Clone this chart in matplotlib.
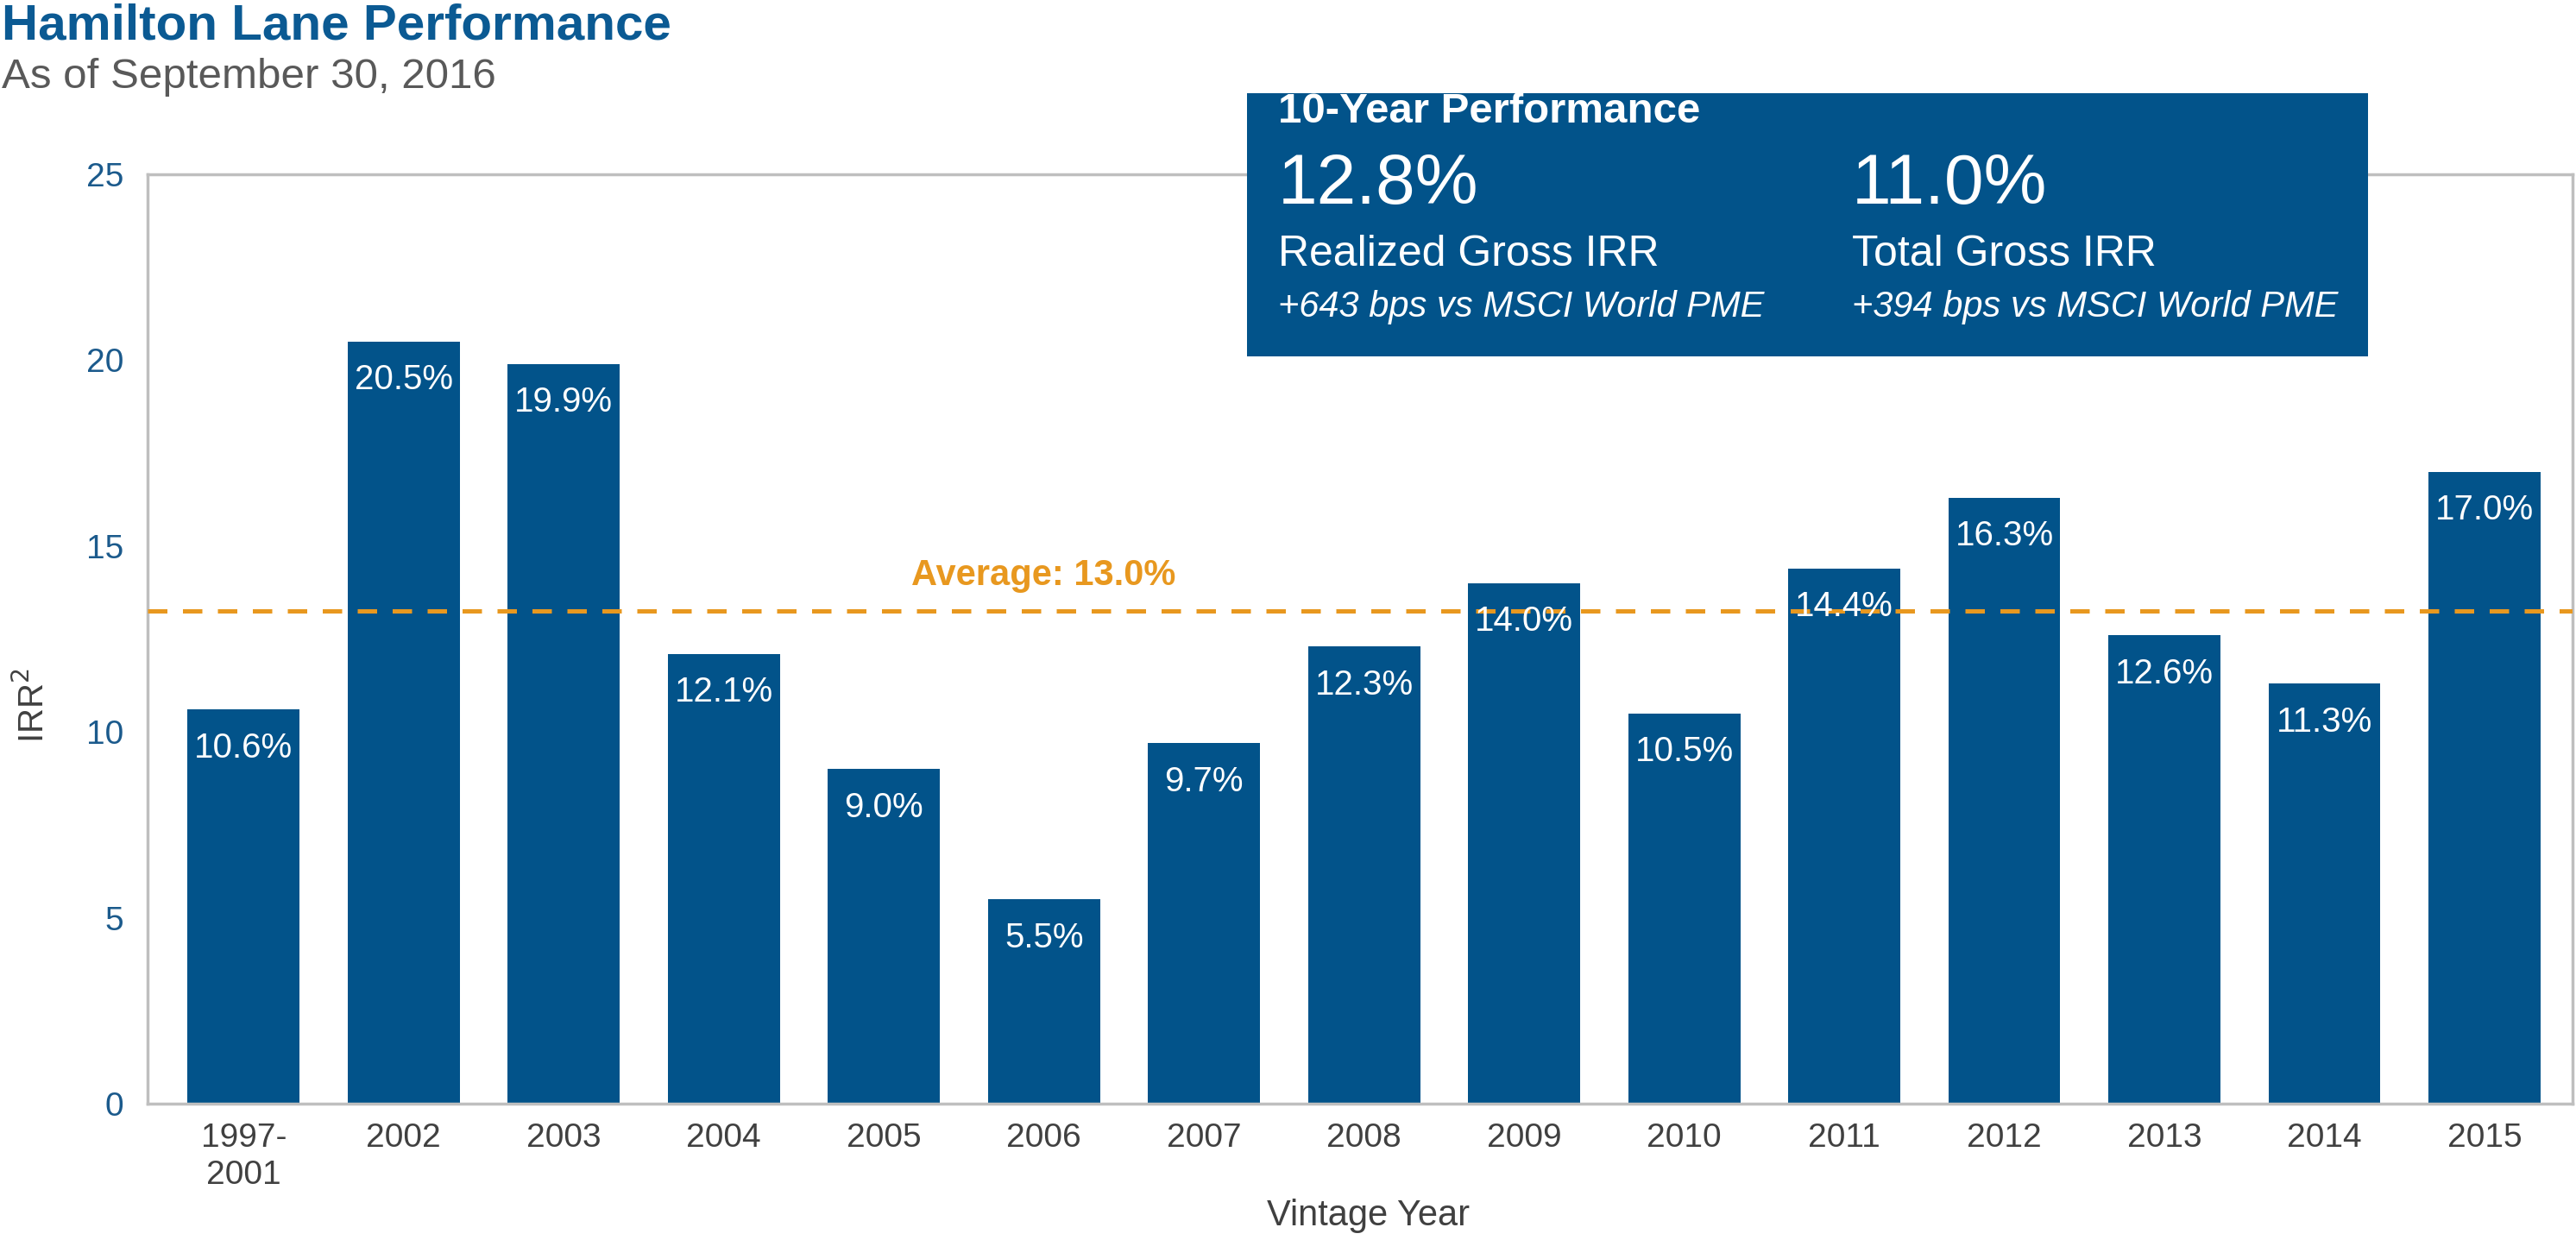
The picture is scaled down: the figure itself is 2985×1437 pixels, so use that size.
"""Hamilton Lane performance by vintage year, with the 10-year summary box."""
import matplotlib
matplotlib.use("Agg")
import matplotlib.pyplot as plt
from matplotlib.patches import Rectangle

plt.rcParams["font.family"] = ["Liberation Sans", "DejaVu Sans"]

# data
vintages = ["1997-\n2001", "2002", "2003", "2004", "2005", "2006", "2007", "2008",
            "2009", "2010", "2011", "2012", "2013", "2014", "2015"]
irr = [10.6, 20.5, 19.9, 12.1, 9.0, 5.5, 9.7, 12.3, 14.0, 10.5, 14.4, 16.3, 12.6, 11.3, 17.0]
avg_line = 13.25         # where the dashed line sits in the picture
avg_label = "Average: 13.0%"
perf_values = ["12.8%", "11.0%"]
perf_names = ["Realized Gross IRR", "Total Gross IRR"]
perf_notes = ["+643 bps vs MSCI World PME", "+394 bps vs MSCI World PME"]

BLUE = "#02538A"
TICK_BLUE = "#1B5A8C"
ORANGE = "#E8981F"
GREY_TXT = "#404040"
FRAME = "#BFBFBF"

W, H = 2985, 1437
fig = plt.figure(figsize=(W / 100, H / 100), dpi=100)


def fx(px):
    return px / W


def fy(py):
    return 1 - py / H


ax = fig.add_axes([fx(171), fy(1279), fx(2981) - fx(171), fy(202) - fy(1279)])
x = list(range(len(vintages)))
ax.bar(x, irr, width=0.7, color=BLUE, zorder=2)
for xi, v in zip(x, irr):
    ax.annotate(f"{v:.1f}%", (xi, v), xytext=(0, -32), textcoords="offset points",
                ha="center", va="center", color="white", fontsize=29, zorder=4)

ax.axhline(avg_line, color=ORANGE, lw=3.6, linestyle=(0, (4.5, 3.6)), zorder=3)
ax.annotate(avg_label, (5, avg_line), xytext=(0, 30), textcoords="offset points",
            ha="center", va="center", color=ORANGE, fontsize=30, fontweight="bold")

ax.set_xlim(-0.6, 14.55)
ax.set_ylim(0, 25)
ax.set_yticks([0, 5, 10, 15, 20, 25])
ax.set_xticks(x)
ax.set_xticklabels(vintages, color=GREY_TXT, fontsize=28, linespacing=1.25)
ax.tick_params(axis="x", length=0, pad=16)
ax.tick_params(axis="y", length=0, pad=20, labelsize=28, labelcolor=TICK_BLUE)
for sp in ax.spines.values():
    sp.set_color(FRAME)
    sp.set_linewidth(2.5)
fig.text(fx(1586), fy(1409), "Vintage Year", ha="center", va="center",
         fontsize=30, color=GREY_TXT)
fig.text(fx(38), fy(818), "IRR$^2$", rotation=90, ha="center", va="center",
         fontsize=29, color=GREY_TXT)

# titles
fig.text(fx(2), fy(30), "Hamilton Lane Performance", fontsize=42, fontweight="bold",
         color="#0B5A93", ha="left", va="center")
fig.text(fx(2), fy(90), "As of September 30, 2016", fontsize=35.5, color="#595959",
         ha="left", va="center")

# 10-year performance box
box = Rectangle((fx(1445), fy(413)), fx(2744) - fx(1445), fy(108) - fy(413),
                transform=fig.transFigure, facecolor=BLUE, edgecolor="none", zorder=5)
fig.add_artist(box)
fig.text(fx(1481), fy(130), "10-Year Performance", fontsize=35.5, fontweight="bold",
         color="white", ha="left", va="center", zorder=6)
for col_x, val, name, note in zip([1481, 2146], perf_values, perf_names, perf_notes):
    fig.text(fx(col_x), fy(215), val, fontsize=59, color="white",
             ha="left", va="center", zorder=6)
    fig.text(fx(col_x), fy(295), name, fontsize=36, color="white",
             ha="left", va="center", zorder=6)
    fig.text(fx(col_x), fy(356), note, fontsize=30, style="italic", color="white",
             ha="left", va="center", zorder=6)

fig.savefig("out.png", dpi=100)
